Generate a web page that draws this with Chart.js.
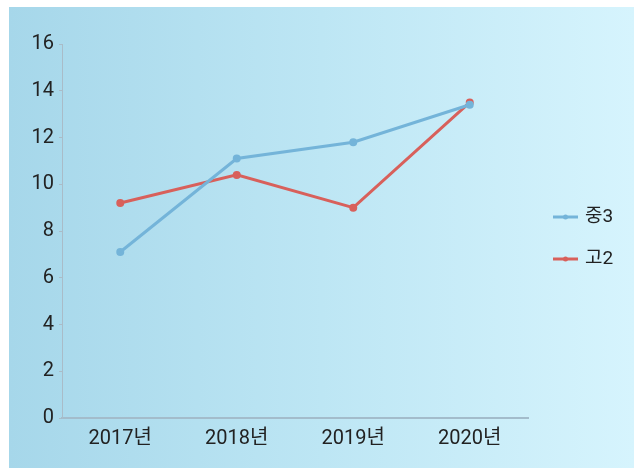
<!DOCTYPE html>
<html>
<head>
<meta charset="utf-8">
<script src="https://cdn.jsdelivr.net/npm/chart.js@4.4.1/dist/chart.umd.min.js"></script>
<style>
  body { margin: 0; background: #fff; }
  .panel {
    position: absolute;
    left: 9px;
    top: 7px;
    width: 625px;
    height: 461px;
    background: linear-gradient(to right, #a6d7ea 0%, #bde6f4 50%, #d6f4fd 100%);
  }
</style>
</head>
<body>
<div class="panel">
  <canvas id="lineChart" width="625" height="461"></canvas>
</div>
<script>
// categories and series
const years = ["2017년", "2018년", "2019년", "2020년"];
const middle3 = [7.1, 11.1, 11.8, 13.4];
const high2 = [9.2, 10.4, 9.0, 13.5];
const seriesNames = ["중3", "고2"];
const yTicks = [0, 2, 4, 6, 8, 10, 12, 14, 16];

const blue = "#74b4d9";
const red = "#d8605b";
const fontFamily = "Roboto, 'Noto Sans CJK KR', sans-serif";

// legend drawn beside the plot: short line with a dot, then the name
const sideLegend = {
  id: "sideLegend",
  afterDraw(chart) {
    const ctx = chart.ctx;
    const area = chart.chartArea;
    chart.data.datasets.forEach((ds, i) => {
      const y = 210 + i * 42;
      const x0 = area.right + 25;
      ctx.save();
      ctx.strokeStyle = ds.borderColor;
      ctx.lineWidth = 3;
      ctx.beginPath();
      ctx.moveTo(x0, y);
      ctx.lineTo(x0 + 25, y);
      ctx.stroke();
      ctx.fillStyle = ds.borderColor;
      ctx.beginPath();
      ctx.arc(x0 + 12.5, y, 2.5, 0, Math.PI * 2);
      ctx.fill();
      ctx.fillStyle = "#222";
      ctx.font = "19px " + fontFamily;
      ctx.textBaseline = "middle";
      ctx.fillText(ds.label, x0 + 32, y);
      ctx.restore();
    });
  }
};

const ctx = document.getElementById("lineChart").getContext("2d");
const lineChart = new Chart(ctx, {
  type: "line",
  data: {
    labels: years,
    datasets: [
      {
        label: seriesNames[0],
        data: middle3,
        borderColor: blue,
        backgroundColor: blue,
        borderWidth: 3,
        pointRadius: 2.5,
        tension: 0,
      },
      {
        label: seriesNames[1],
        data: high2,
        borderColor: red,
        backgroundColor: red,
        borderWidth: 3,
        pointRadius: 2.5,
        tension: 0,
      },
    ],
  },
  options: {
    responsive: false,
    animation: false,
    layout: {
      padding: { top: 37, right: 106, left: 0, bottom: 0 },
    },
    scales: {
      x: {
        offset: true,
        grid: { display: false, drawTicks: false },
        border: { color: "#a3bccb", width: 2 },
        ticks: {
          color: "#222",
          padding: 9,
          font: { size: 20, family: fontFamily },
        },
        afterFit: (scale) => {
          scale.height = 50;
        },
      },
      y: {
        min: 0,
        max: 16,
        afterBuildTicks: (axis) => {
          axis.ticks = yTicks.map((v) => ({ value: v }));
        },
        grid: {
          drawOnChartArea: false,
          drawTicks: true,
          tickLength: 3,
          color: "#a9bcc8",
        },
        border: { color: "#a9bcc8", width: 1 },
        ticks: {
          color: "#222",
          padding: 5,
          font: { size: 20, family: fontFamily },
        },
        afterFit: (scale) => {
          scale.width = 53;
        },
      },
    },
    plugins: {
      legend: { display: false },
      tooltip: { enabled: false },
    },
  },
  plugins: [sideLegend],
});
</script>
</body>
</html>
